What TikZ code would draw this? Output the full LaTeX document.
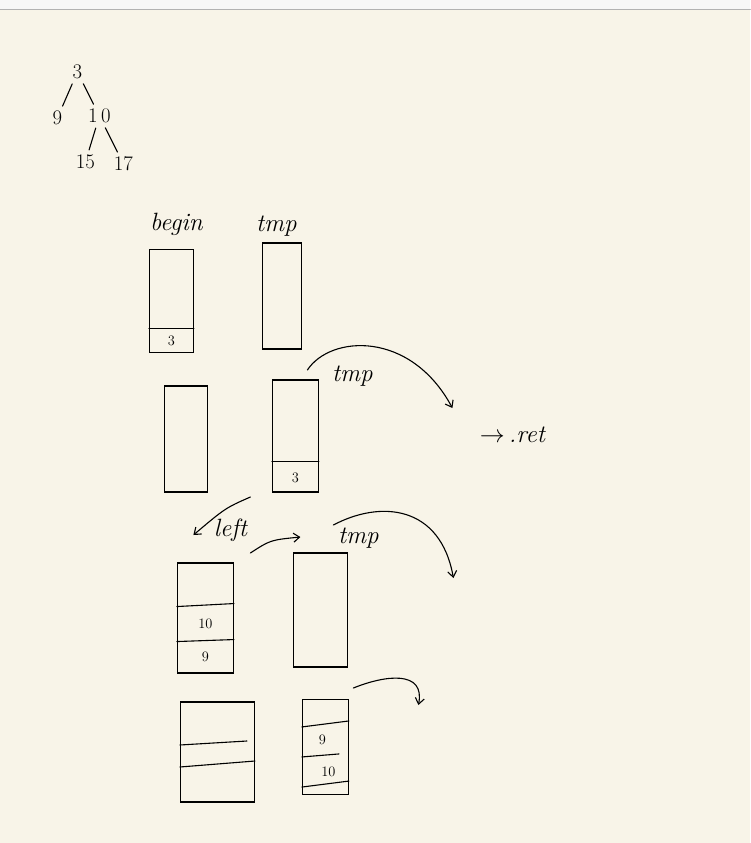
\documentclass[tikz,border=0pt]{standalone}
\usepackage{tikz}
\usetikzlibrary{arrows.meta,calc,positioning}
\definecolor{paper}{HTML}{F8F4E8}
\definecolor{topbar}{HTML}{F7F7F7}
\tikzset{
    stack/.style = {draw, line width=1.1pt, rectangle, inner sep=0pt},
    lbl/.style = {font=\fontsize{25}{30}\selectfont\itshape, inner sep=1pt},
    num/.style = {font=\huge, inner sep=1pt},
    cell/.style = {font=\Large, inner sep=1pt},
    div/.style = {line width=1.1pt},
    edge/.style = {-{Straight Barb[length=6pt,width=9pt]}, line width=1.1pt},
    branch/.style = {line width=1.1pt, shorten >=4pt, shorten <=4pt}
}
\begin{document}
\begin{tikzpicture}[x=1pt, y=-1pt, line cap=round]

% ---- paper ----
\fill[paper] (0,0) rectangle (750,843);
\fill[topbar] (0,0) rectangle (750,9);
\draw[gray!60, thick] (0,9) -- (750,9);
\useasboundingbox (0,0) rectangle (750,843);

% ---- tree ----
\node[num] (t3) at (77,72) {3};
\node[num] (t9) at (57,118) {9};
\node[num] (t10) at (99,116) {1\,0};
\node[num] (t15) at (85,162) {15};
\node[num] (t17) at (123,164) {17};
\draw[branch] (t3) -- (t9);
\draw[branch] (t3) -- (t10);
\draw[branch] (t10) -- (t15);
\draw[branch] (t10) -- (t17);

% ---- first row ----
\node[lbl] (begin) at (176,224) {begin};
\node[lbl] (tmpA) at (276,226) {tmp};
\node[stack, minimum width=44pt, minimum height=103pt] (stA) at (171,301) {};
\node[stack, minimum width=39pt, minimum height=106pt] (stB) at (282,296) {};
\draw[div] ($(stA.south west)+(0,-25)$) -- ($(stA.south east)+(0,-25)$);
\node[cell] (a3) at ($(stA.south)+(0,-12)$) {3};

% ---- second row ----
\node[stack, minimum width=43pt, minimum height=106pt] (stC) at (186,439) {};
\node[stack, minimum width=46pt, minimum height=112pt] (stD) at (295,436) {};
\draw[div] ($(stD.south west)+(0,-31)$) -- ($(stD.south east)+(0,-31)$);
\node[cell] (d3) at ($(stD.south)+(0,-15)$) {3};
\coordinate (p1) at (307,370);
\coordinate (p2) at (452,408);
\draw[edge] (p1) .. controls (330,335) and (410,330) .. (p2);
\node[lbl] (tmpB) at (352,376) {tmp};
\node[lbl] (ret) at (512,435) {$\rightarrow$\,.ret};

% ---- third row ----
\coordinate (q1) at (250,497);
\coordinate (q2) at (193,535);
\draw[edge] (q1) .. controls (225,508) .. (q2);
\node[lbl] (left) at (230,530) {left};
\coordinate (r1) at (250,553);
\coordinate (r2) at (300,537);
\draw[edge] (r1) .. controls (270,540) .. (r2);
\node[lbl] (tmpC) at (358,538) {tmp};
\coordinate (s1) at (333,525);
\coordinate (s2) at (453,578);
\draw[edge] (s1) .. controls (380,500) and (440,505) .. (s2);
\node[stack, minimum width=56pt, minimum height=110pt] (stE) at (205,618) {};
\draw[div] ($(stE.south west)+(0,-67)$) -- ($(stE.south east)+(0,-70)$);
\draw[div] ($(stE.south west)+(0,-32)$) -- ($(stE.south east)+(0,-34)$);
\node[cell] (e10) at ($(stE.south)+(0,-50)$) {10};
\node[cell] (e9) at ($(stE.south)+(0,-17)$) {9};
\node[stack, minimum width=54pt, minimum height=114pt] (stF) at (320,610) {};

% ---- fourth row ----
\node[stack, minimum width=74pt, minimum height=100pt] (stG) at (217,752) {};
\draw[div] ($(stG.west)+(0,-7)$) -- ($(stG.east)+(-8,-11)$);
\draw[div] ($(stG.west)+(0,15)$) -- ($(stG.east)+(0,9)$);
\node[stack, minimum width=46pt, minimum height=95pt] (stH) at (325,747) {};
\draw[div] ($(stH.north west)+(0,28)$) -- ($(stH.north east)+(0,22)$);
\draw[div] ($(stH.north west)+(0,58)$) -- ($(stH.north east)+(-10,55)$);
\draw[div] ($(stH.south west)+(0,-8)$) -- ($(stH.south east)+(0,-14)$);
\node[cell] (h9) at ($(stH.north)+(-3,41)$) {9};
\node[cell] (h10) at ($(stH.south)+(3,-23)$) {10};
\coordinate (u1) at (353,688);
\coordinate (u2) at (418,705);
\draw[edge] (u1) .. controls (385,675) and (425,670) .. (u2);

\end{tikzpicture}
\end{document}
